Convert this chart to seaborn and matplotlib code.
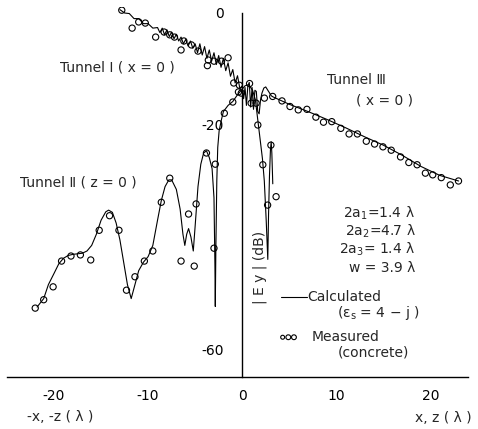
import matplotlib
matplotlib.use("Agg")
import matplotlib.pyplot as plt
import seaborn as sns
import pandas as pd

# ---------------- data ----------------
# Tunnel I (x = 0), calculated, along -z
t1_z = [-13.0, -12.5, -12.0, -11.5, -11.0, -10.5, -10.0, -9.5, -9.0,
        -8.75, -8.5, -8.25, -8.0, -7.75, -7.5, -7.25, -7.0, -6.75, -6.5,
        -6.25, -6.0, -5.75, -5.5, -5.25, -5.0, -4.75, -4.5, -4.25, -4.0,
        -3.75, -3.5, -3.25, -3.0, -2.75, -2.5, -2.25, -2.0, -1.75, -1.5,
        -1.25, -1.0, -0.75, -0.5, -0.25, 0.0]
t1_db = [0.6, 0.0, -0.1, -1.0, -1.0, -1.9, -1.9, -2.7, -2.6,
         -3.5, -2.7, -3.9, -3.0, -4.2, -3.4, -4.6, -3.8, -5.0, -4.3,
         -5.5, -4.7, -5.9, -5.0, -6.3, -5.5, -7.1, -5.5, -7.5, -6.0,
         -8.1, -6.6, -8.6, -7.1, -9.2, -7.6, -9.7, -8.1, -10.3, -8.9,
         -11.3, -10.1, -12.5, -11.2, -13.5, -13.0]
# junction region (calculated)
jn_z = [0.15, 0.3, 0.45, 0.6, 0.75, 0.9, 1.05, 1.2, 1.35, 1.5, 1.65,
        1.8, 1.95, 2.1, 2.3, 2.5, 2.8, 3.1]
jn_db = [-15.3, -13.3, -16.5, -13.0, -12.4, -16.8, -13.3, -17.2, -13.8,
         -14.0, -17.6, -18.0, -15.5, -14.3, -13.4, -13.2, -14.0, -14.8]
# Tunnel III (x = 0), calculated, along +z
t3_z = [3.3, 5.0, 7.0, 9.0, 11.0, 13.0, 15.0, 17.0, 19.0, 21.0, 23.0]
t3_db = [-15.0, -16.3, -17.6, -19.0, -20.5, -22.1, -23.6, -25.4, -27.4,
         -29.0, -30.0]
# Tunnel II (z = 0), calculated, along -x
t2_x = [-21.8, -21.1, -20.6, -20.0, -19.5, -19.0, -18.5, -18.0, -17.5,
        -17.0, -16.5, -16.0, -15.5, -15.0, -14.5, -14.2, -13.8, -13.4,
        -13.0, -12.6, -12.2, -11.8, -11.4, -11.0, -10.5, -10.0, -9.5,
        -9.0, -8.6, -8.2, -7.8, -7.5, -7.0, -6.6, -6.3, -6.1, -5.9, -5.7,
        -5.45, -5.2, -5.0, -4.7, -4.4, -4.1, -3.8, -3.5, -3.2, -3.0, -2.9,
        -2.86, -2.8, -2.7, -2.6, -2.45, -2.2, -2.0, -1.5, -1.0, -0.5, 0.0,
        0.3, 0.7, 1.1, 1.4, 1.65, 1.9, 2.15, 2.35, 2.55, 2.72, 2.8, 2.9,
        3.0, 3.08, 3.15, 3.25]
t2_db = [-52.5, -51.0, -48.5, -46.5, -44.8, -43.8, -43.3, -43.1, -43.0,
         -42.9, -42.5, -41.5, -39.5, -37.0, -35.5, -35.2, -35.6, -37.5,
         -40.5, -44.5, -48.5, -51.0, -48.5, -46.0, -44.5, -43.5, -41.5,
         -37.0, -33.5, -31.0, -29.8, -29.8, -31.5, -35.0, -39.5, -41.5,
         -39.5, -38.5, -40.0, -42.5, -38.0, -31.0, -27.0, -25.0, -24.6,
         -25.8, -27.8, -33.0, -45.0, -52.4, -42.0, -30.0, -24.0, -21.0,
         -19.0, -17.6, -16.5, -15.8, -14.6, -13.6, -13.0, -12.8, -13.8,
         -15.5, -19.0, -22.5, -26.0, -30.0, -37.0, -44.0, -36.0, -29.0,
         -24.5, -23.0, -25.0, -30.5]

# measured (concrete)
m1_z = [-12.8, -11.7, -11.0, -10.3, -9.2, -8.3, -7.7, -7.2, -6.5, -6.2,
        -5.4, -4.7, -3.7, -3.6, -3.0, -2.2, -1.5, -0.9, -0.3]
m1_db = [0.5, -2.7, -1.6, -1.8, -4.3, -3.4, -3.9, -4.3, -6.6, -5.0,
         -5.7, -6.8, -9.4, -8.4, -8.6, -8.6, -8.0, -12.5, -12.9]
mj_z = [-0.1, 0.78, 0.95, 1.48, 2.36]
mj_db = [-14.3, -12.6, -16.1, -16.1, -15.2]
m3_z = [3.24, 4.23, 5.08, 5.96, 6.88, 7.83, 8.64, 9.52, 10.48, 11.36,
        12.24, 13.19, 14.07, 14.96, 15.84, 16.83, 17.71, 18.59, 19.47,
        20.25, 21.16, 22.12, 22.99]
m3_db = [-14.9, -15.7, -16.7, -17.3, -17.2, -18.6, -19.5, -19.4, -20.6,
         -21.6, -21.6, -22.9, -23.4, -23.9, -24.5, -25.7, -26.7, -27.1,
         -28.6, -28.9, -29.4, -30.7, -30.0]
m2_x = [-22.0, -21.1, -20.1, -19.2, -18.2, -17.2, -16.1, -15.2, -14.1,
        -13.1, -12.3, -11.4, -10.4, -9.5, -8.6, -7.7, -6.5, -5.7, -5.1,
        -4.9, -3.8, -3.0, -2.86, -1.9, -1.0, -0.4, 1.66, 2.19, 2.7, 3.05,
        3.6]
m2_db = [-52.7, -51.2, -48.9, -44.3, -43.4, -43.2, -44.1, -38.8, -36.2,
         -38.8, -49.5, -47.1, -44.3, -42.5, -33.8, -29.5, -44.3, -35.9,
         -45.2, -34.1, -25.0, -42.0, -27.0, -17.9, -15.9, -14.1, -20.0,
         -27.1, -34.3, -23.6, -32.8]

x_ticks = [-25, -20, -15, -10, -5, 0, 5, 10, 15, 20]
x_tick_labels = ["", "-20", "", "-10", "", "0", "", "10", "", "20"]
y_ticks = [0, -10, -20, -30, -40, -50, -60]
y_tick_labels = ["0", "", "-20", "", "", "", "-60"]
params = ["2a$_1$=1.4 λ", "2a$_2$=4.7 λ", "2a$_3$= 1.4 λ", "w = 3.9 λ"]

# ---------------- figure ----------------
sns.set_style("white")
plt.rcParams["font.family"] = ["DejaVu Sans"]
plt.rcParams["font.size"] = 10

W, H = 478, 429
fig = plt.figure(figsize=(W / 100, H / 100), dpi=100)
ax = fig.add_axes([7 / W, 1 - 377 / H, (468 - 7) / W, (377 - 7.4) / H])

calc_z = pd.DataFrame({"pos": t1_z + jn_z + t3_z, "db": t1_db + jn_db + t3_db})
calc_x = pd.DataFrame({"pos": t2_x, "db": t2_db})
meas = pd.DataFrame({"pos": m1_z + mj_z + m3_z + m2_x,
                     "db": m1_db + mj_db + m3_db + m2_db})

lw = 0.8
sns.lineplot(data=calc_z, x="pos", y="db", sort=False, estimator=None,
             color="black", lw=lw, ax=ax)
sns.lineplot(data=calc_x, x="pos", y="db", sort=False, estimator=None,
             color="black", lw=lw, ax=ax)
sns.scatterplot(data=meas, x="pos", y="db", marker="o", s=20,
                facecolors="none", edgecolor="black", linewidth=0.8, ax=ax,
                zorder=3)

ax.set_xlim(-24.8, 24.0)
ax.set_ylim(-65, 1)

for s in ["top", "right"]:
    ax.spines[s].set_visible(False)
ax.spines["left"].set_position(("data", 0))
ax.spines["left"].set_bounds(-65, 0)
ax.spines["left"].set_linewidth(1.0)
ax.spines["bottom"].set_linewidth(1.0)
ax.spines["left"].set_color("black")
ax.spines["bottom"].set_color("black")

ax.set_xticks(x_ticks)
ax.set_xticklabels(x_tick_labels)
ax.set_yticks(y_ticks)
ax.set_yticklabels(y_tick_labels)
ax.tick_params(axis="x", direction="in", length=4, width=0.8, pad=9,
               labelsize=10, colors="black")
ax.tick_params(axis="y", direction="out", length=4, width=0.8, pad=9,
               labelsize=10, colors="black")
ax.set_xlabel("")
ax.set_ylabel("")

# annotations
ax.text(-19.4, -9.8, "Tunnel Ⅰ ( x = 0 )", fontsize=10, va="center", ha="left")
ax.text(-23.6, -30.2, "Tunnel Ⅱ ( z = 0 )", fontsize=10, va="center", ha="left")
ax.text(9.0, -12.0, "Tunnel Ⅲ", fontsize=10, va="center", ha="left")
ax.text(12.1, -15.7, "( x = 0 )", fontsize=10, va="center", ha="left")
for i, p in enumerate(params):
    ax.text(18.4, -35.7 - 3.25 * i, p, fontsize=10, va="center", ha="right")

# legend (hand drawn like the original)
ax.plot([4.1, 6.9], [-50.7, -50.7], color="black", lw=lw)
ax.text(6.9, -50.7, "Calculated", fontsize=10, va="center", ha="left")
ax.text(10.1, -53.6, "(ε$_\\mathrm{s}$ = 4 − j )", fontsize=10, va="center", ha="left")
ax.scatter([4.3, 4.9, 5.5], [-57.9, -57.9, -57.9], s=[8, 12, 12],
           facecolors="none", edgecolors="black", linewidths=0.8)
ax.text(7.4, -57.9, "Measured", fontsize=10, va="center", ha="left")
ax.text(10.2, -60.7, "(concrete)", fontsize=10, va="center", ha="left")

ax.text(1.9, -45.5, "| E y | (dB)", fontsize=10, va="center", ha="center",
        rotation=90)

fig.text(27 / W, 1 - 417 / H, "-x, -z ( λ )", fontsize=10, va="center", ha="left")
fig.text(472 / W, 1 - 418 / H, "x, z ( λ )", fontsize=10, va="center", ha="right")

fig.savefig("out.png", dpi=100)
